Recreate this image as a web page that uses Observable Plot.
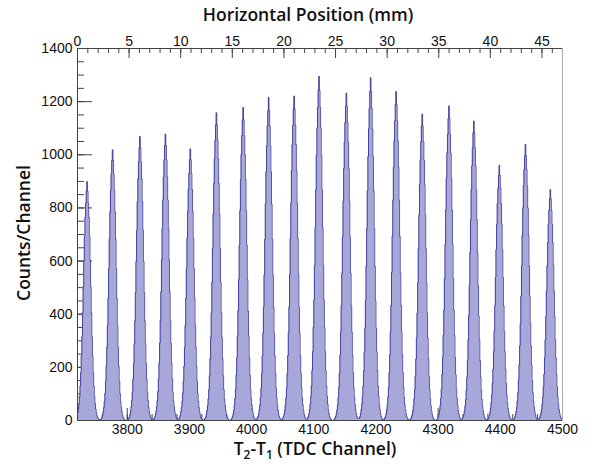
<!DOCTYPE html>
<html><head><meta charset="utf-8">
<script src="https://cdn.jsdelivr.net/npm/d3@7"></script>
<script src="https://cdn.jsdelivr.net/npm/@observablehq/plot@0.6"></script>
<style>body{margin:0;background:#fff;} #chart{width:601px;height:464px;}</style>
</head><body><div id="chart"></div>
<script>
// ---- data ----
const peakChannel = [3735, 3776, 3820, 3861, 3901, 3943, 3986, 4027, 4068, 4108, 4152, 4191, 4232, 4274, 4317, 4357, 4398, 4440, 4480];
const peakCounts  = [899, 1019, 1069, 1078, 1022, 1158, 1178, 1216, 1221, 1295, 1232, 1290, 1238, 1153, 1184, 1127, 960, 1039, 869];
// relative peak shape (offset 0..20 channels from the tip)
const peakProfile = [1.00, 0.96, 0.91, 0.85, 0.77, 0.67, 0.56, 0.45, 0.35, 0.27, 0.20, 0.145, 0.10, 0.07, 0.048, 0.032, 0.02, 0.012, 0.007, 0.004, 0.002];
const xTicks = [3800, 3900, 4000, 4100, 4200, 4300, 4400, 4500];
const yTicks = [0, 200, 400, 600, 800, 1000, 1200, 1400];
const mmTicks = [0, 5, 10, 15, 20, 25, 30, 35, 40, 45];
const xDomain = [3720, 4500];
const yDomain = [0, 1400];
const channelsPerMm = 16.6;

// ---- build histogram bins ----
const bins = [];
for (let c = xDomain[0]; c < xDomain[1]; c++) {
  let v = 0;
  peakChannel.forEach((p, i) => {
    const o = Math.abs(c - p);
    if (o < peakProfile.length) v += peakCounts[i] * peakProfile[o];
  });
  bins.push({ch: c, n: Math.round(v)});
}
bins.push({ch: xDomain[1], n: bins[bins.length - 1].n});

const xMinor = d3.range(xDomain[0], xDomain[1] + 1, 20);
const yMinor = d3.range(0, 1401, 50);
const mmMinor = d3.range(0, 47, 1);
const mmToCh = mm => xDomain[0] + mm * channelsPerMm;

const W = 601, H = 464, mL = 77, mR = 39, mT = 48, mB = 44;
const pW = W - mL - mR, pH = H - mT - mB;
const axisCol = "#444";

const chart = Plot.plot({
  width: W, height: H,
  marginLeft: mL, marginRight: mR, marginTop: mT, marginBottom: mB,
  x: {domain: xDomain, label: null},
  y: {domain: yDomain, label: null},
  style: {fontFamily: "'Liberation Sans', Arial, sans-serif", fontSize: "14px", color: "#111", background: "#fff"},
  marks: [
    Plot.ruleX(xMinor, {x: d => d, insetTop: pH - 6, stroke: axisCol}),
    Plot.ruleX(xTicks, {x: d => d, insetTop: pH - 12, stroke: axisCol}),
    Plot.ruleY(yMinor, {y: d => d, insetRight: pW - 7, stroke: axisCol}),
    Plot.ruleY(yTicks, {y: d => d, insetRight: pW - 15, stroke: axisCol}),
    Plot.ruleX(mmMinor, {x: mmToCh, insetBottom: pH - 5, stroke: axisCol}),
    Plot.ruleX(mmTicks, {x: mmToCh, insetBottom: pH - 10, stroke: axisCol}),
    Plot.areaY(bins, {x: "ch", y: "n", curve: "step-after", fill: "#a7a7da"}),
    Plot.lineY(bins, {x: "ch", y: "n", curve: "step-after", stroke: "#2a2a8e", strokeWidth: 0.8}),
    Plot.ruleX([xDomain[1]], {stroke: "#aaa"}),
    Plot.ruleX([xDomain[0]], {stroke: axisCol}),
    Plot.ruleY([yDomain[0]], {stroke: axisCol}),
    Plot.ruleY([yDomain[1]], {stroke: axisCol}),
    Plot.axisX(xTicks, {anchor: "bottom", tickSize: 0, tickPadding: 4, label: null, tickFormat: d => String(d)}),
    Plot.axisY(yTicks, {anchor: "left", tickSize: 0, tickPadding: 5, label: null, tickFormat: d => String(d)}),
    Plot.text(mmTicks, {x: mmToCh, frameAnchor: "top", lineAnchor: "bottom", dy: -3, text: d => String(d), fontSize: 14})
  ]
});
document.getElementById("chart").appendChild(chart);

// ---- axis titles ----
const svg = d3.select(chart);
const tf = "'Open Sans', 'Noto Sans', sans-serif";
svg.append("text").attr("x", 308).attr("y", 21).attr("text-anchor", "middle")
  .attr("font-family", tf).attr("font-size", 17.5).attr("font-weight", 600).attr("fill", "#111").text("Horizontal Position (mm)");
svg.append("text").attr("transform", "translate(30,233) rotate(-90)").attr("text-anchor", "middle")
  .attr("font-family", tf).attr("font-size", 17.5).attr("font-weight", 600).attr("fill", "#111").text("Counts/Channel");
const bt = svg.append("text").attr("x", 315).attr("y", 455).attr("text-anchor", "middle")
  .attr("font-family", tf).attr("font-size", 17.5).attr("font-weight", 600).attr("fill", "#111");
bt.append("tspan").text("T");
bt.append("tspan").attr("dy", 4).attr("font-size", 12).text("2");
bt.append("tspan").attr("dy", -4).text("-T");
bt.append("tspan").attr("dy", 4).attr("font-size", 12).text("1");
bt.append("tspan").attr("dy", -4).text(" (TDC Channel)");
</script>
</body></html>
